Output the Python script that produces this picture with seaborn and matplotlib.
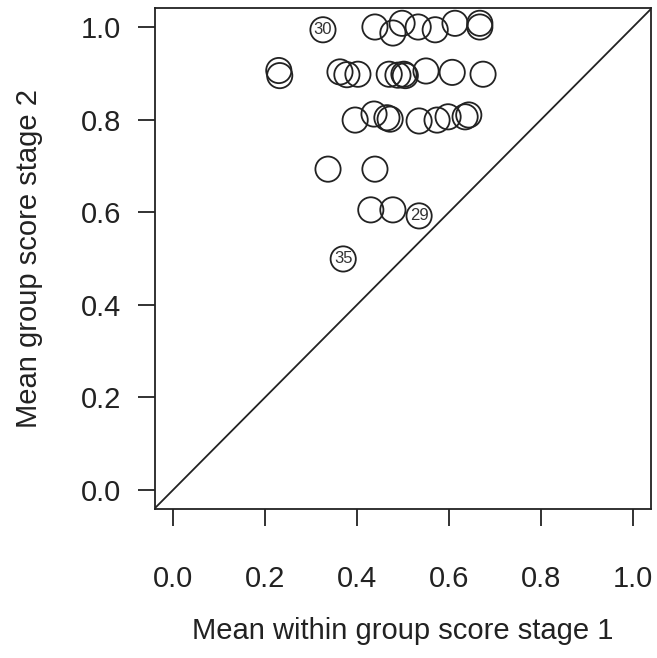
import matplotlib
matplotlib.use("Agg")
import matplotlib.pyplot as plt
import seaborn as sns
import pandas as pd

# Unlabelled points
stage1 = [0.439, 0.478, 0.498, 0.533, 0.570, 0.613, 0.667, 0.667,
          0.230, 0.232, 0.363, 0.378, 0.402, 0.470, 0.489, 0.502, 0.505, 0.550, 0.607, 0.674,
          0.396, 0.437, 0.465, 0.472, 0.535, 0.574, 0.598, 0.635, 0.643,
          0.337, 0.439,
          0.430, 0.478]
stage2 = [1.000, 0.987, 1.008, 1.000, 0.994, 1.008, 1.008, 1.000,
          0.906, 0.895, 0.903, 0.897, 0.898, 0.898, 0.896, 0.898, 0.895, 0.905, 0.902, 0.898,
          0.799, 0.812, 0.804, 0.801, 0.797, 0.799, 0.806, 0.806, 0.810,
          0.693, 0.693,
          0.605, 0.605]

# Labelled points
lab_stage1 = [0.326, 0.535, 0.370]
lab_stage2 = [0.994, 0.592, 0.499]
lab_text = ["30", "29", "35"]

ticks = [0.0, 0.2, 0.4, 0.6, 0.8, 1.0]
tick_labels = ["0.0", "0.2", "0.4", "0.6", "0.8", "1.0"]

sns.set_theme(style="ticks")
plt.rcParams["font.family"] = ["Liberation Sans", "DejaVu Sans"]

fig = plt.figure(figsize=(6.57, 6.58), dpi=100)
ax = fig.add_axes([0.2353, 0.2272, 0.7562, 0.7599])

df = pd.DataFrame({"x": stage1 + lab_stage1, "y": stage2 + lab_stage2})
sns.scatterplot(data=df, x="x", y="y", ax=ax, s=330, marker="o",
                facecolors="none", edgecolors="#222222", linewidth=1.3, legend=False)

for xv, yv, t in zip(lab_stage1, lab_stage2, lab_text):
    ax.text(xv, yv, t, ha="center", va="center", fontsize=12, color="#333333")

ax.axline((0, 0), slope=1, color="#222222", linewidth=1.3)

ax.set_xlim(-0.04, 1.04)
ax.set_ylim(-0.04, 1.04)
ax.set_xticks(ticks)
ax.set_xticklabels(tick_labels)
ax.set_yticks(ticks)
ax.set_yticklabels(tick_labels)
ax.tick_params(axis="both", length=12, width=1.3, color="#222222",
               labelsize=21, labelcolor="#222222")
ax.tick_params(axis="x", pad=29)
ax.tick_params(axis="y", pad=12)
for sp in ax.spines.values():
    sp.set_visible(True)
    sp.set_color("#222222")
    sp.set_linewidth(1.3)

ax.set_xlabel("Mean within group score stage 1", fontsize=21, color="#222222", labelpad=17)
ax.set_ylabel("Mean group score stage 2", fontsize=21, color="#222222", labelpad=27)

fig.savefig("out.png", dpi=100)
